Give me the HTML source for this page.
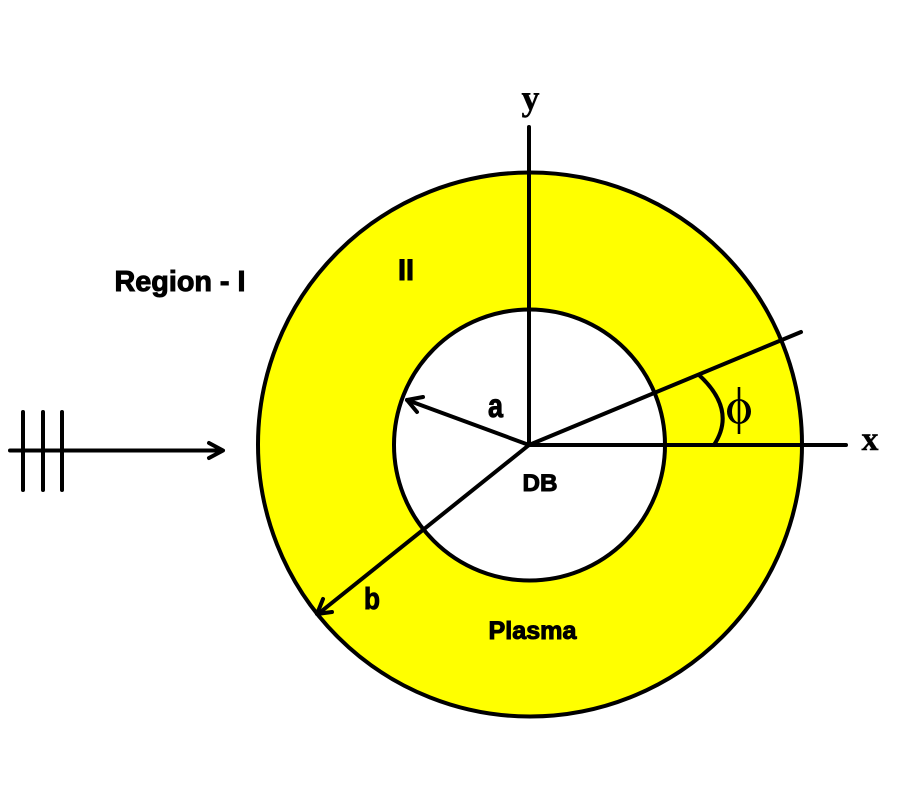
<!DOCTYPE html>
<html>
<head>
<meta charset="utf-8">
<style>
html,body{margin:0;padding:0;background:#fff;width:900px;height:800px;overflow:hidden}
svg{display:block}
text{fill:#000}
.s{font-family:"Liberation Sans",sans-serif;font-weight:bold;stroke:#000;stroke-width:1}
.t{font-family:"Liberation Serif",serif;font-weight:bold;stroke:#000;stroke-width:.4}
</style>
</head>
<body>
<svg width="900" height="800" viewBox="0 0 900 800" xmlns="http://www.w3.org/2000/svg">
<defs>
<filter id="soft" x="0" y="0" width="100%" height="100%" filterUnits="userSpaceOnUse" primitiveUnits="userSpaceOnUse">
<feGaussianBlur stdDeviation="0.35"/>
</filter>
</defs>
<g filter="url(#soft)">
<circle cx="530" cy="444.500" r="272" fill="#ffff00" stroke="#000" stroke-width="4"/>
<circle cx="529.500" cy="445" r="135.500" fill="#fff" stroke="#000" stroke-width="4"/>
<g fill="none" stroke="#000" stroke-width="4" stroke-linecap="round" stroke-linejoin="round">
<line x1="529" y1="127" x2="529" y2="445"/>
<line x1="529" y1="445" x2="846" y2="445"/>
<line x1="529" y1="445" x2="801" y2="332"/>
<path d="M699 375 Q737 410 714 445"/>
<line x1="529" y1="445" x2="407" y2="400"/>
<path d="M423 397 L407 400 L417 412"/>
<line x1="529" y1="445" x2="318" y2="614"/>
<path d="M323 599 L317 614 L332 612"/>
<line x1="10" y1="450.500" x2="222" y2="450.500"/>
<path d="M209 443 L223 450.500 L209 458"/>
<line x1="23" y1="412" x2="23" y2="490"/>
<line x1="43" y1="412" x2="43" y2="490"/>
<line x1="62" y1="412" x2="62" y2="490"/>
</g>
<line x1="739" y1="387" x2="739" y2="434" stroke="#000" stroke-width="2.600"/>
<path fill-rule="evenodd" fill="#000" d="M727 411.500a12 12.500 0 1 0 24 0a12 12.500 0 1 0 -24 0zM732 411.500a7 11 0 1 1 14 0a7 11 0 1 1 -14 0z"/>
<text class="t" x="530.500" y="110" font-size="36" text-anchor="middle">y</text>
<text class="t" x="870" y="450" font-size="34" text-anchor="middle">x</text>
<text class="s" x="180" y="291" font-size="29" text-anchor="middle" textLength="131" lengthAdjust="spacingAndGlyphs">Region - I</text>
<text class="s" x="406" y="280" font-size="30" text-anchor="middle" textLength="16" lengthAdjust="spacingAndGlyphs" stroke-width="1.500">II</text>
<text class="s" x="495.500" y="417" font-size="33" text-anchor="middle" textLength="15" lengthAdjust="spacingAndGlyphs">a</text>
<text class="s" x="540" y="491" font-size="24" text-anchor="middle" textLength="35" lengthAdjust="spacingAndGlyphs">DB</text>
<text class="s" x="372" y="609" font-size="31" text-anchor="middle" textLength="16" lengthAdjust="spacingAndGlyphs">b</text>
<text class="s" x="532.500" y="639" font-size="25" text-anchor="middle" textLength="88" lengthAdjust="spacingAndGlyphs">Plasma</text>
</g>
</svg>
</body>
</html>
